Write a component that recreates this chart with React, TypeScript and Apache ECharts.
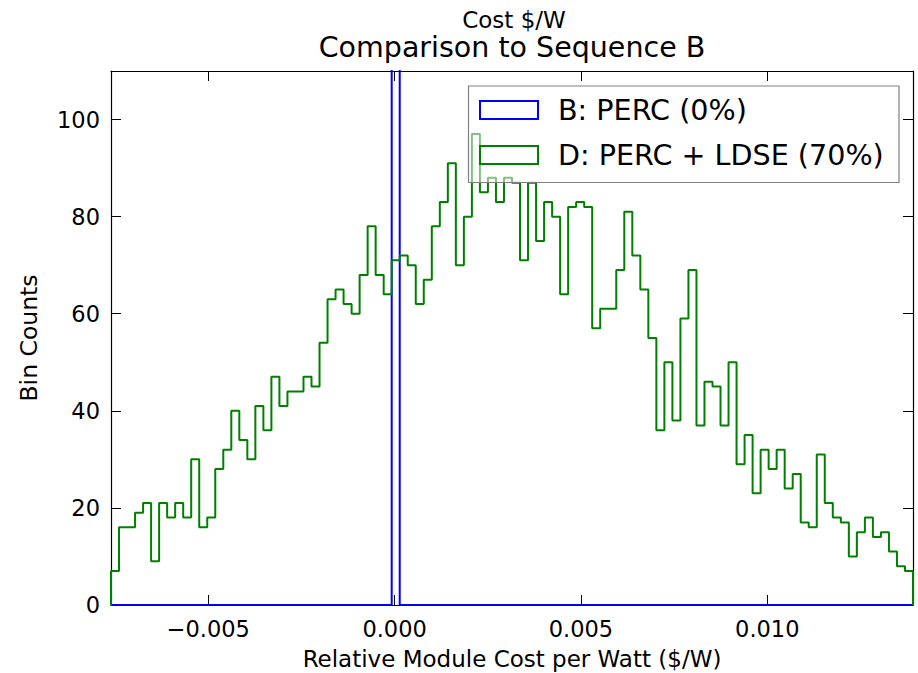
import React, { useEffect, useRef } from "react";
import * as echarts from "echarts";

// Histogram bin layout (shared by both series)
const binStart = -0.00761;
const binWidth = 0.0002152;

// D: PERC + LDSE (70%) bin counts (100 bins)
const greenCounts = [
  7, 16, 16, 19, 21, 9, 21, 18, 21, 18, 30, 16, 18, 28, 32, 40,
  34, 30, 41, 36, 47, 41, 44, 44, 47, 45, 54, 63, 65, 62, 60, 68, 78,
  68, 64, 71, 72, 70, 62, 67, 78, 83, 91, 70, 80, 97, 85, 88, 83, 88, 87,
  71, 87, 75, 83, 80, 64, 82, 83, 82, 57, 61, 61, 69, 81, 72,
  65, 55, 36, 50, 38, 59, 69, 37, 46, 45, 37, 50, 29, 35, 23, 32, 28,
  32, 24, 27, 17, 16, 31, 21, 18, 17, 10, 15, 18, 14, 15, 11, 8, 7,
];

// B: PERC (0%) bin counts (all samples at zero)
const blueCounts = [
  0, 0, 0, 0, 0, 0, 0, 0, 0, 0, 0, 0, 0, 0, 0, 0, 0, 0, 0, 0,
  0, 0, 0, 0, 0, 0, 0, 0, 0, 0, 0, 0, 0, 0, 0, 5000, 0, 0, 0, 0,
  0, 0, 0, 0, 0, 0, 0, 0, 0, 0, 0, 0, 0, 0, 0, 0, 0, 0, 0, 0,
  0, 0, 0, 0, 0, 0, 0, 0, 0, 0, 0, 0, 0, 0, 0, 0, 0, 0, 0, 0,
  0, 0, 0, 0, 0, 0, 0, 0, 0, 0, 0, 0, 0, 0, 0, 0, 0, 0, 0, 0,
];

const seriesNames = ["B: PERC (0%)", "D: PERC + LDSE (70%)"];
const seriesColors = ["#0000ff", "#008000"];
const yTicks = [0, 20, 40, 60, 80, 100];

const FONT = "DejaVu Sans";

function stepPoints(counts: number[]): number[][] {
  const pts: number[][] = [[binStart, 0]];
  counts.forEach((c, i) => {
    const x0 = binStart + i * binWidth;
    pts.push([x0, c]);
    pts.push([x0 + binWidth, c]);
  });
  pts.push([binStart + counts.length * binWidth, 0]);
  return pts;
}

export default function App() {
  const ref = useRef<HTMLDivElement>(null);

  useEffect(() => {
    if (!ref.current) return;
    const chart = echarts.init(ref.current, null, { renderer: "svg" });
    const xMin = binStart;
    const xMax = binStart + greenCounts.length * binWidth;

    const fmtX = (v: number) => {
      const r = Math.abs(v) < 1e-10 ? 0 : v;
      return r.toFixed(3).replace("-", "\u2212");
    };

    const frameAxisCommon = {
      axisLine: { show: true, onZero: false, lineStyle: { color: "#000", width: 1.2 } },
      axisTick: { show: true, inside: true, length: 10, lineStyle: { color: "#000", width: 1 } },
      splitLine: { show: false },
    };

    const option: any = {
      animation: false,
      backgroundColor: "#ffffff",
      textStyle: { fontFamily: FONT, color: "#000" },
      grid: {
        left: 111,
        right: 5,
        top: 71,
        bottom: 68,
        containLabel: false,
        outerBoundsMode: "none",
      },
      xAxis: [
        {
          type: "value",
          position: "bottom",
          min: xMin,
          max: xMax,
          minInterval: 0.005,
          maxInterval: 0.005,
          ...frameAxisCommon,
          axisLabel: {
            show: true,
            formatter: fmtX,
            fontSize: 22.5,
            fontFamily: FONT,
            color: "#000",
            margin: 12,
            showMinLabel: false,
            showMaxLabel: false,
          },
          name: "Relative Module Cost per Watt ($/W)",
          nameLocation: "middle",
          nameGap: 42,
          nameTextStyle: { fontSize: 23, fontFamily: FONT, color: "#000" },
        },
        {
          type: "value",
          position: "top",
          min: xMin,
          max: xMax,
          minInterval: 0.005,
          maxInterval: 0.005,
          ...frameAxisCommon,
          axisLabel: { show: false },
        },
      ],
      yAxis: [
        {
          type: "value",
          position: "left",
          min: 0,
          max: 110,
          interval: 20,
          ...frameAxisCommon,
          axisLabel: {
            show: true,
            fontSize: 22.5,
            fontFamily: FONT,
            color: "#000",
            margin: 11,
            showMaxLabel: false,
            formatter: (v: number) => (yTicks.indexOf(v) >= 0 ? String(v) : ""),
          },
          name: "Bin Counts",
          nameLocation: "middle",
          nameGap: 70,
          nameTextStyle: { fontSize: 23.5, fontFamily: FONT, color: "#000" },
        },
        {
          type: "value",
          position: "right",
          min: 0,
          max: 110,
          interval: 20,
          ...frameAxisCommon,
          axisLabel: { show: false },
        },
      ],
      series: [
        {
          name: seriesNames[0],
          type: "line",
          xAxisIndex: 0,
          yAxisIndex: 0,
          data: stepPoints(blueCounts),
          showSymbol: false,
          symbol: "none",
          clip: true,
          lineStyle: { color: seriesColors[0], width: 2 },
          itemStyle: { color: seriesColors[0] },
          z: 3,
        },
        {
          name: seriesNames[1],
          type: "line",
          xAxisIndex: 0,
          yAxisIndex: 0,
          data: stepPoints(greenCounts),
          showSymbol: false,
          symbol: "none",
          clip: true,
          lineStyle: { color: seriesColors[1], width: 2 },
          itemStyle: { color: seriesColors[1] },
          z: 3,
        },
      ],
      graphic: [
        {
          type: "text",
          x: 514,
          y: 19.5,
          style: {
            text: "Cost $/W",
            fontSize: 23,
            fontFamily: FONT,
            fill: "#000",
            textAlign: "center",
            textVerticalAlign: "middle",
          },
        },
        {
          type: "text",
          x: 512,
          y: 47,
          style: {
            text: "Comparison to Sequence B",
            fontSize: 28.5,
            fontFamily: FONT,
            fill: "#000",
            textAlign: "center",
            textVerticalAlign: "middle",
          },
        },
        {
          type: "group",
          z: 100,
          children: [
            {
              type: "rect",
              shape: { x: 468.5, y: 86, width: 430.5, height: 96.5 },
              style: { fill: "rgba(255,255,255,0.5)", stroke: "#808080", lineWidth: 1.2 },
              z: 100,
            },
            {
              type: "rect",
              shape: { x: 480, y: 101, width: 58, height: 18 },
              style: { fill: "none", stroke: seriesColors[0], lineWidth: 2 },
              z: 101,
            },
            {
              type: "rect",
              shape: { x: 480, y: 146, width: 58, height: 18 },
              style: { fill: "none", stroke: seriesColors[1], lineWidth: 2 },
              z: 101,
            },
            {
              type: "text",
              x: 558,
              y: 110,
              z: 101,
              style: {
                text: seriesNames[0],
                fontSize: 28.6,
                fontFamily: FONT,
                fill: "#000",
                textAlign: "left",
                textVerticalAlign: "middle",
              },
            },
            {
              type: "text",
              x: 558,
              y: 155,
              z: 101,
              style: {
                text: seriesNames[1],
                fontSize: 28.6,
                fontFamily: FONT,
                fill: "#000",
                textAlign: "left",
                textVerticalAlign: "middle",
              },
            },
          ],
        },
      ],
    };

    chart.setOption(option);
    return () => {
      chart.dispose();
    };
  }, []);

  return (
    <div
      ref={ref}
      style={{ position: "absolute", left: 0, top: 0, width: 918, height: 673, background: "#fff" }}
    />
  );
}
